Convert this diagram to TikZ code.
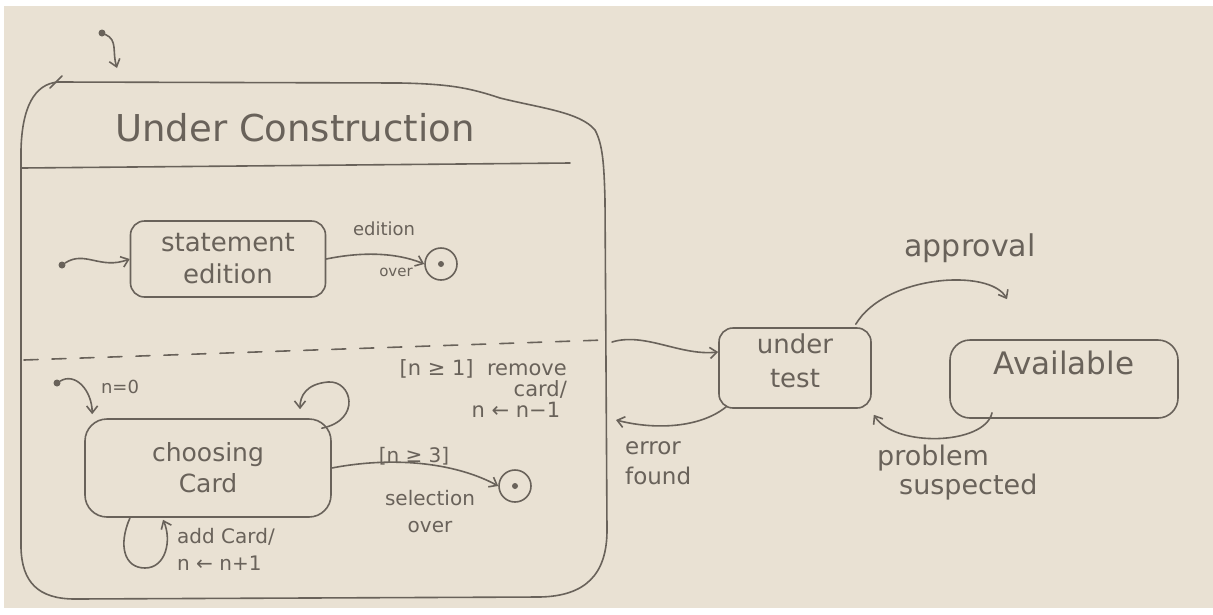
\documentclass[tikz,border=0pt]{standalone}
\usepackage{fontspec}
\setmainfont{DejaVu Sans}
\usetikzlibrary{arrows.meta}
\definecolor{paper}{RGB}{233,225,211}
\definecolor{pencil}{RGB}{105,98,90}
\begin{document}
\begin{tikzpicture}[x=1pt,y=-1pt,
 pen/.style={draw=pencil, line width=1.6pt, line cap=round, line join=round},
 stbox/.style={pen, rounded corners=14pt, align=center, text=pencil, font=\fontsize{24}{30}\selectfont},
 lbl/.style={text=pencil, font=\fontsize{18}{22}\selectfont, inner sep=1pt},
 arr/.style={pen, -{Straight Barb[length=7pt,width=11pt]}},
 fin/.style={pen, circle, minimum size=32pt, inner sep=0pt},
 init/.style={circle, fill=pencil, minimum size=7pt, inner sep=0pt},
 dotc/.style={circle, fill=pencil, minimum size=6pt, inner sep=0pt}]
\fill[white] (0,0) rectangle (1213,614);
\fill[paper] (4,6) rectangle (1213,608);
\useasboundingbox (0,0) rectangle (1213,614);

% composite state
\node[minimum width=586pt, minimum height=516pt] (uc) at (313,340) {};
\draw[pen] (58,82) -- (400,83) .. controls (450,84) and (470,88) .. (500,98)
  .. controls (540,108) and (580,112) .. (595,130) .. controls (603,145) and (604,165) .. (605,200)
  -- (607,530) .. controls (607,575) and (585,596) .. (540,597) -- (75,599)
  .. controls (38,599) and (22,582) .. (21,548) -- (21,150)
  .. controls (22,108) and (34,84) .. (58,82);
\draw[pen] (50,88) -- (62,76);
\node[text=pencil, font=\fontsize{37}{40}\selectfont] (title) at (295,128) {Under Construction};
\coordinate (sepL) at (22,168);
\coordinate (sepR) at (570,163);
\draw[pen] (sepL) -- (sepR);
\coordinate (dL) at (24,360);
\coordinate (dR) at (604,340);
\draw[pen, dash pattern=on 14pt off 14pt] (dL) -- (dR);

% initial of composite
\node[init] (i0) at (102,33) {};
\coordinate (i0t) at (117,68);
\draw[arr] (i0) .. controls (118,40) and (112,52) .. (i0t);

% upper region
\node[stbox, minimum width=195pt, minimum height=76pt, font=\fontsize{26}{32}\selectfont] (se) at (228,259) {statement\\edition};
\node[init] (i1) at (62,265) {};
\draw[arr] (i1) .. controls (85,250) and (100,270) .. (se.west);
\node[fin] (f1) at (441,264) {};
\node[dotc] at (f1.center) {};
\draw[arr] (se.east) .. controls (360,252) and (395,252) .. (f1.west);
\node[lbl] (l1) at (384,229) {edition};
\node[lbl, font=\fontsize{15}{18}\selectfont] (l1b) at (396,272) {over};

% lower region
\node[stbox, minimum width=246pt, minimum height=98pt, rounded corners=22pt, font=\fontsize{25}{31}\selectfont] (cc) at (208,468) {choosing\\Card};
\node[init] (i2) at (57,383) {};
\draw[arr] (i2) .. controls (75,372) and (92,390) .. ([xshift=8pt,yshift=4pt]cc.north west);
\node[lbl] (l2) at (120,387) {n=0};

\draw[arr] ([xshift=-10pt,yshift=-10pt]cc.north east) .. controls (362,420) and (352,380) .. (328,382) .. controls (306,384) and (300,396) .. ([xshift=92pt,yshift=9pt]cc.north);
\node[lbl, align=right, anchor=north east, font=\fontsize{21}{21}\selectfont] (l3) at (568,358) {[n ≥ 1]\ \ remove\\card/\\n ← n−1\ \ };

\node[fin] (f2) at (515,486) {};
\node[dotc] at (f2.center) {};
\draw[arr] (cc.east) .. controls (400,455) and (460,465) .. (f2.west);
\node[lbl, font=\fontsize{20}{22}\selectfont] (l4) at (414,456) {[n ≥ 3]};
\node[lbl, align=center, font=\fontsize{20}{27}\selectfont] (l5) at (430,512) {selection\\over};

\draw[arr] ([xshift=-78pt]cc.south) .. controls (118,545) and (124,568) .. (145,568) .. controls (166,568) and (172,540) .. ([xshift=-45pt,yshift=-2pt]cc.south);
\node[lbl, align=left, anchor=north west, font=\fontsize{20}{27}\selectfont] (l6) at (176,527) {add Card/\\n ← n+1};

% right part
\node[stbox, minimum width=152pt, minimum height=80pt, font=\fontsize{26}{34}\selectfont, text depth=14pt] (ut) at (795,368) {under\\test};
\node[stbox, minimum width=228pt, minimum height=78pt, rounded corners=20pt, font=\fontsize{31}{34}\selectfont, text depth=32pt] (av) at (1064,379) {Available};

\coordinate (eS) at (612,342);
\draw[arr] (eS) .. controls (645,332) and (680,356) .. ([yshift=16pt]ut.west);
\coordinate (eF) at (616,420);
\draw[arr] ([xshift=8pt,yshift=2pt]ut.south west) .. controls (700,428) and (655,430) .. (eF);
\node[lbl, align=left, anchor=north west, font=\fontsize{23}{30}\selectfont] (l7) at (624,440) {error\\found};

\draw[arr] ([xshift=-16pt,yshift=3pt]ut.north east) .. controls (885,275) and (990,268) .. ([xshift=-57pt,yshift=40pt]av.north);
\node[lbl, font=\fontsize{30}{32}\selectfont] (l8) at (970,248) {approval};

\draw[arr] ([xshift=-72pt,yshift=6pt]av.south) .. controls (985,445) and (895,448) .. ([xshift=2pt,yshift=-6pt]ut.south east);
\node[lbl, align=left, anchor=north west, font=\fontsize{27}{29}\selectfont] (l9) at (876,444) {problem\\\hspace*{22pt}suspected};
\end{tikzpicture}
\end{document}
